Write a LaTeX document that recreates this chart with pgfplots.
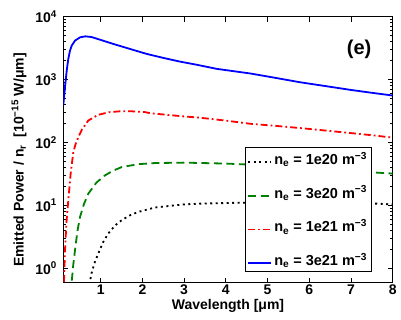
\documentclass[border=0pt]{standalone}
\usepackage{fontspec}
\setmainfont{Liberation Sans}
\usepackage{pgfplots}
\pgfplotsset{compat=1.18}
\definecolor{mgreen}{rgb}{0,0.5,0}
\begin{document}
\begin{tikzpicture}
\begin{axis}[
  scale only axis, width=329.4bp, height=266bp,
  xmin=0.103, xmax=8, ymode=log, ymin=0.585, ymax=10000,
  xtick={1,2,3,4,5,6,7,8}, xticklabels={1,2,3,4,5,6,7,8},
  ytick={1,10,100,1000,10000},
  yticklabels={10\textsuperscript{0},10\textsuperscript{1},10\textsuperscript{2},10\textsuperscript{3},10\textsuperscript{4}},
  tick align=inside,
  xtick pos=both, ytick pos=both,
  major tick length=5bp, minor tick length=3bp,
  axis line style={line width=1.2bp},
  every tick/.style={black, line width=0.8bp},
  tick label style={font=\bfseries\fontsize{14bp}{16bp}\selectfont},
  xticklabel style={yshift=1bp},
  yticklabel style={xshift=-3bp},
  xlabel={Wavelength [μm]},
  ylabel={Emitted Power / n\textsubscript{r}\ \ [10\textsuperscript{−15} W/μm]},
  label style={font=\bfseries\fontsize{14bp}{16bp}\selectfont},
  xlabel style={at={(axis description cs:0.5,-0.088)}, anchor=center},
  ylabel style={at={(axis description cs:-0.134,0.461)}, anchor=center},
  legend style={at={(0.937,0.040)}, anchor=south east, draw=black, line width=0.8bp,
    font=\bfseries\fontsize{14.5bp}{16bp}\selectfont, row sep=16bp, inner sep=2.5bp},
  legend cell align=left,
  legend image code/.code={\draw[#1] (0bp,-3bp) -- (23bp,-3bp);},
]
\addplot[black, line width=1.8bp, dash pattern=on 2bp off 3.5bp] coordinates {
(0.70,0.3) (0.738,0.58) (0.778,0.82) (0.86,1.25) (0.942,1.71) (1.06,2.6) (1.182,3.56)
(1.35,4.8) (1.503,5.78) (1.7,6.9) (1.901,7.83) (2.302,9.2) (2.98,10.3) (3.38,10.6)
(4.17,10.9) (5.0,11.0) (6.0,10.9) (7.0,10.7) (7.62,10.6) (8.0,10.3)};
\addlegendentry{n\textsubscript{e} = 1e20 m\textsuperscript{−3}}
\addplot[mgreen, line width=1.8bp, dash pattern=on 8bp off 4.5bp] coordinates {
(0.29,0.4) (0.304,0.6) (0.34,1.1) (0.384,1.93) (0.44,3.8) (0.503,6.5) (0.6,10.5)
(0.703,15.3) (0.9,23) (1.103,29.9) (1.3,35.5) (1.503,40.5) (1.9,45) (2.302,46.9)
(2.98,47.6) (3.38,47) (4.0,46) (4.5,44.5) (5.0,43) (5.5,41) (6.0,39) (6.5,37)
(7.0,35.5) (7.62,33) (8.0,31.9)};
\addlegendentry{n\textsubscript{e} = 3e20 m\textsuperscript{−3}}
\addplot[red, line width=1.8bp, dash pattern=on 7bp off 3bp on 1.8bp off 3bp] coordinates {
(0.103,0.35) (0.12,0.62) (0.144,1.93) (0.18,5.5) (0.223,12) (0.28,32) (0.343,70)
(0.40,95) (0.463,121) (0.55,160) (0.703,223) (0.942,275) (1.2,302) (1.503,314)
(1.75,312) (2.062,303) (2.18,292) (2.5,278) (3.02,258) (3.38,247) (4.0,222) (4.58,198)
(5.2,183) (5.78,169) (6.4,154) (6.98,141) (7.5,130) (8.0,119)};
\addlegendentry{n\textsubscript{e} = 1e21 m\textsuperscript{−3}}
\addplot[blue, line width=1.8bp] coordinates {
(0.103,390) (0.144,760) (0.185,1390) (0.223,2130) (0.264,2890) (0.304,3460)
(0.384,4160) (0.503,4690) (0.63,4870) (0.78,4750) (0.98,4310) (1.3,3690)
(1.7,3070) (2.1,2560) (2.5,2210) (2.9,1930) (3.3,1720) (3.78,1480) (4.58,1250)
(5.2,1060) (5.78,905) (6.4,785) (6.98,686) (7.5,615) (8.0,557)};
\addlegendentry{n\textsubscript{e} = 3e21 m\textsuperscript{−3}}
\node[font=\bfseries\fontsize{20bp}{22bp}\selectfont] at (rel axis cs:0.898,0.879) {(e)};
\end{axis}
\pgfresetboundingbox
\path[use as bounding box] (-63.3bp,-37.3bp) rectangle (337.7bp,282.7bp);
\end{tikzpicture}
\end{document}
